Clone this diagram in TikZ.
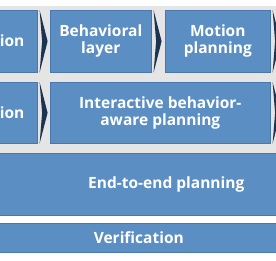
\documentclass[tikz,border=0pt]{standalone}
\usepackage{fontspec}
\setsansfont{Open Sans}
\usepackage{xcolor}
\usepackage{tikz}
\usetikzlibrary{positioning, calc}
\definecolor{boxFill}{RGB}{91, 142, 194}
\definecolor{boxEdge}{RGB}{72, 120, 172}
\definecolor{tipDark}{RGB}{28, 52, 82}
\definecolor{backGray}{RGB}{229, 229, 229}

\begin{document}
\begin{tikzpicture}[x=1pt, y=-1pt,
    blk/.style={draw=boxEdge, line width=0.6pt, fill=boxFill, anchor=north west, inner sep=0pt, text=white, align=center},
    lbl/.style={text=white, inner sep=0pt, align=center},
    every node/.style={font=\sffamily\bfseries\fontsize{15.5}{17}\selectfont}]
    \useasboundingbox (0,0) rectangle (276,260);
    \clip (0,0) rectangle (276,260);
    % Background
    \fill[white] (0,0) rectangle (276,260);
    \fill[backGray] (0,6) rectangle (276,215);
    % First row
    \node[blk, minimum width=97pt, minimum height=62pt] (per1) at (-60,10) {};
    \node[lbl, anchor=east] (ion1) at (24.5,41) {ion};
    \node[blk, minimum width=101pt, minimum height=62pt] (beh) at (50,10) {Behavioral\\layer};
    \node[blk, minimum width=105pt, minimum height=62pt] (mot) at (165,10) {Motion\\planning};
    % Second row
    \node[blk, minimum width=97pt, minimum height=61pt] (per2) at (-60,82) {};
    \node[lbl, anchor=east] (ion2) at (24.5,112.5) {ion};
    \node[blk, minimum width=220pt, minimum height=61pt] (iab) at (50,82) {Interactive behavior-\\aware planning};
    % End-to-end and verification
    \node[blk, minimum width=392pt, minimum height=62pt] (e2e) at (-30,153) {End-to-end planning};
    \node[blk, minimum width=317pt, minimum height=29pt] (ver) at (-20,223) {Verification};
    % Chevrons between the blocks
    \foreach \b in {per1, beh, mot, per2, iab} {
      \fill[tipDark] ([xshift=2pt]\b.north east) -- ([xshift=10pt]\b.east)
        -- ([xshift=2pt]\b.south east) -- ([xshift=4.5pt]\b.east) -- cycle;
    }
\end{tikzpicture}
\end{document}
